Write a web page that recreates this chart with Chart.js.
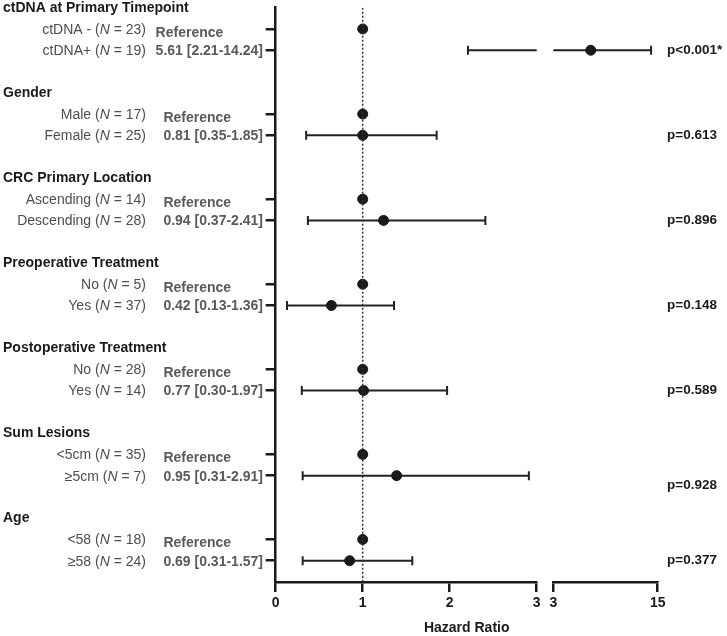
<!DOCTYPE html>
<html>
<head>
<meta charset="utf-8">
<script src="https://cdn.jsdelivr.net/npm/chart.js@4.4.1/dist/chart.umd.min.js"></script>
<style>
  html, body { margin: 0; padding: 0; background: #fff; }
</style>
</head>
<body>
<canvas id="forest" width="727" height="636"></canvas>
<script>
// groups and rows
const groups = ["ctDNA at Primary Timepoint", "Gender", "CRC Primary Location", "Preoperative Treatment",
  "Postoperative Treatment", "Sum Lesions", "Age"];
const refNames = ["ctDNA -", "Male", "Ascending", "No", "No", "<5cm", "<58"];
const refN = [23, 17, 14, 5, 28, 35, 18];
const cmpNames = ["ctDNA+", "Female", "Descending", "Yes", "Yes", "\u22655cm", "\u226558"];
const cmpN = [19, 25, 28, 37, 14, 7, 24];

// printed hazard ratios and CIs
const hrPrinted = [5.61, 0.81, 0.94, 0.42, 0.77, 0.95, 0.69];
const ciLow = [2.21, 0.35, 0.37, 0.13, 0.30, 0.31, 0.31];
const ciHigh = [14.24, 1.85, 2.41, 1.36, 1.97, 2.91, 1.57];
// where the dots sit in the figure
const hrPlotted = [7.3, 1.0, 1.24, 0.64, 1.01, 1.39, 0.85];
const pValues = ["p<0.001*", "p=0.613", "p=0.896", "p=0.148", "p=0.589", "p=0.928", "p=0.377"];
const refValue = 1;

// axis ticks
const lowTicks = [0, 1, 2, 3];
const highTicks = [3, 15];
const breakAt = 3;

const FF = "'Liberation Sans', Arial, Helvetica, sans-serif";
const INK = "#1a1a1a";

const refRow = i => i * 4;
const cmpRow = i => i * 4 + 1;
const rowTicks = [];
groups.forEach((g, i) => { rowTicks.push(refRow(i), cmpRow(i)); });

// error bars, drawn under the dots
const ciBars = {
  id: "ciBars",
  beforeDatasetsDraw(chart) {
    const { ctx } = chart;
    const y = chart.scales.y, x1 = chart.scales.x, x2 = chart.scales.x2;
    const px = v => (v <= breakAt ? x1 : x2).getPixelForValue(v);
    ctx.save();
    ctx.strokeStyle = "#222";
    ctx.lineWidth = 2;
    groups.forEach((g, i) => {
      const yy = y.getPixelForValue(cmpRow(i));
      const lo = ciLow[i], hi = ciHigh[i];
      ctx.beginPath();
      if (lo < breakAt) {
        ctx.moveTo(x1.getPixelForValue(lo), yy);
        ctx.lineTo(x1.getPixelForValue(Math.min(hi, breakAt)), yy);
      }
      if (hi > breakAt) {
        ctx.moveTo(x2.getPixelForValue(Math.max(lo, breakAt)), yy);
        ctx.lineTo(x2.getPixelForValue(hi), yy);
      }
      [lo, hi].forEach(v => {
        ctx.moveTo(px(v), yy - 4.5);
        ctx.lineTo(px(v), yy + 4.5);
      });
      ctx.stroke();
    });
    ctx.restore();
  }
};

function drawLabel(ctx, name, n, xRight, yy) {
  const a = name + " (", b = "N", c = " = " + n + ")";
  ctx.font = "14px " + FF;
  const wa = ctx.measureText(a).width, wc = ctx.measureText(c).width;
  ctx.font = "italic 14px " + FF;
  const wb = ctx.measureText(b).width;
  let x = xRight - wa - wb - wc;
  ctx.textAlign = "left";
  ctx.font = "14px " + FF; ctx.fillText(a, x, yy); x += wa;
  ctx.font = "italic 14px " + FF; ctx.fillText(b, x, yy); x += wb;
  ctx.font = "14px " + FF; ctx.fillText(c, x, yy);
}

// side texts
const sideText = {
  id: "sideText",
  afterDraw(chart) {
    const { ctx, chartArea } = chart;
    const y = chart.scales.y;
    ctx.save();
    ctx.textBaseline = "middle";
    groups.forEach((g, i) => {
      ctx.fillStyle = INK;
      ctx.textAlign = "left";
      ctx.font = "bold 14px " + FF;
      ctx.fillText(g, 3, y.getPixelForValue(refRow(i) - 1));

      ctx.fillStyle = "#4d4d4d";
      drawLabel(ctx, refNames[i], refN[i], 146, y.getPixelForValue(refRow(i)) + 1);
      drawLabel(ctx, cmpNames[i], cmpN[i], 146, y.getPixelForValue(cmpRow(i)) + 1);

      const hrText = hrPrinted[i].toFixed(2) + " [" + ciLow[i].toFixed(2) + "-" + ciHigh[i].toFixed(2) + "]";
      ctx.fillStyle = "#5a5a5a";
      ctx.font = "bold 14px " + FF;
      const w = ctx.measureText(hrText).width;
      ctx.textAlign = "right";
      ctx.fillText(hrText, 263, y.getPixelForValue(cmpRow(i)) + 1);
      ctx.textAlign = "left";
      ctx.fillText("Reference", 263 - w, y.getPixelForValue(refRow(i)) + 4);

      ctx.fillStyle = INK;
      ctx.font = "bold 13.5px " + FF;
      const off = i === 5 ? 10 : 0;
      ctx.fillText(pValues[i], 667, y.getPixelForValue(cmpRow(i)) + off);
    });
    ctx.textAlign = "center";
    ctx.font = "bold 14px " + FF;
    ctx.fillText("Hazard Ratio", (chartArea.left + chartArea.right) / 2, 628);
    ctx.restore();
  }
};

const axisLine = { color: INK, width: 2.5 };
const tickGrid = { drawOnChartArea: false, tickLength: 10, color: INK, lineWidth: 2.5 };
const tickFont = { family: FF, size: 14, weight: "bold" };

new Chart("forest", {
  type: "scatter",
  data: {
    datasets: [{
      type: "line",
      data: [{ x: refValue, y: -1 }, { x: refValue, y: 26 }],
      xAxisID: "x",
      borderColor: "#333",
      borderWidth: 1.5,
      borderDash: [2, 2],
      pointRadius: 0
    }, {
      data: groups.map((g, i) => ({ x: refValue, y: refRow(i) })),
      xAxisID: "x",
      backgroundColor: INK, borderColor: INK, pointRadius: 5
    }, {
      data: groups.map((g, i) => ({ x: hrPlotted[i], y: cmpRow(i) })).filter(p => p.x <= breakAt),
      xAxisID: "x",
      backgroundColor: INK, borderColor: INK, pointRadius: 5
    }, {
      data: groups.map((g, i) => ({ x: hrPlotted[i], y: cmpRow(i) })).filter(p => p.x > breakAt),
      xAxisID: "x2",
      backgroundColor: INK, borderColor: INK, pointRadius: 5
    }]
  },
  options: {
    responsive: false,
    animation: false,
    layout: { padding: { left: 275.7, right: 69.3, top: 7.7, bottom: 0 } },
    plugins: { legend: { display: false }, tooltip: { enabled: false } },
    scales: {
      y: {
        type: "linear", reverse: true, min: -1, max: 26,
        afterBuildTicks: s => { s.ticks = rowTicks.map(v => ({ value: v })); },
        afterFit: s => { s.width = 0; },
        ticks: { display: false },
        grid: tickGrid,
        border: axisLine
      },
      x: {
        type: "linear", position: "bottom", stack: "hr", stackWeight: 261,
        min: 0, max: 3,
        afterBuildTicks: s => { s.ticks = lowTicks.map(v => ({ value: v })); },
        afterFit: s => { s.height = 54; },
        ticks: { font: tickFont, color: INK, padding: 3 },
        grid: tickGrid,
        border: axisLine
      },
      xg: {
        type: "linear", position: "bottom", stack: "hr", stackWeight: 16.6,
        display: false
      },
      x2: {
        type: "linear", position: "bottom", stack: "hr", stackWeight: 104.4,
        min: 3, max: 15,
        afterBuildTicks: s => { s.ticks = highTicks.map(v => ({ value: v })); },
        afterFit: s => { s.height = 54; },
        ticks: { font: tickFont, color: INK, padding: 3 },
        grid: tickGrid,
        border: axisLine
      }
    }
  },
  plugins: [ciBars, sideText]
});
</script>
</body>
</html>
